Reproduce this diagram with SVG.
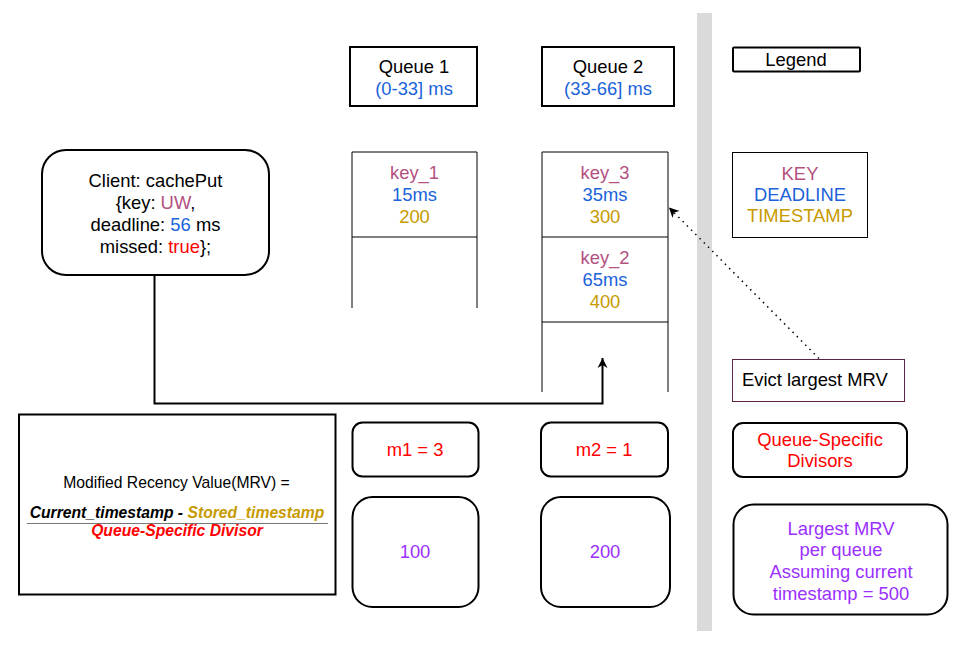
<svg xmlns="http://www.w3.org/2000/svg" width="966" height="646" viewBox="0 0 966 646">
<defs>
<style>
text{font-family:"Liberation Sans",Arial,sans-serif;font-size:18.4px;text-anchor:middle;fill:#000}
.box{fill:#fff;stroke:#000;stroke-width:2}
.thin{fill:none;stroke:#000;stroke-width:1}
.k{fill:#b3517f}.d{fill:#1a63d9}.t{fill:#c79a00}.r{fill:#ff0000}.p{fill:#9b30ff}
</style>
<marker id="arr" markerWidth="12" markerHeight="12" viewBox="0 0 12 12" refX="11" refY="6" orient="auto" markerUnits="userSpaceOnUse">
<path d="M1,1 L11,6 L1,11 L4,6 Z" fill="#000"/>
</marker>
</defs>
<rect x="0" y="0" width="966" height="646" fill="#fff"/>
<rect id="divider" x="697" y="13" width="15" height="618" fill="#dadada"/>

<g id="queue1-header"><rect class="box" x="350" y="47" width="127" height="59"/><text x="414" y="73">Queue 1</text><text class="d" x="414" y="95">(0-33] ms</text></g>
<g id="queue2-header"><rect class="box" x="542" y="47" width="132" height="59"/><text x="608" y="73">Queue 2</text><text class="d" x="608" y="95">(33-66] ms</text></g>

<g id="client"><rect class="box" x="42" y="150" width="227" height="125" rx="24"/>
<text x="155.5" y="187">Client: cachePut</text>
<text x="155.5" y="209">{key: <tspan class="k">UW</tspan>,</text>
<text x="155.5" y="231">deadline: <tspan class="d">56</tspan> ms</text>
<text x="155.5" y="253">missed: <tspan class="r">true</tspan>};</text></g>

<g id="queue1">
<path class="thin" d="M352,308 V152 H477 V308 M352,237 H477"/>
<text class="k" x="414.5" y="179">key_1</text><text class="d" x="414.5" y="201">15ms</text><text class="t" x="414.5" y="223">200</text>
</g>
<g id="queue2">
<path class="thin" d="M542,392 V152 H668 V392 M542,237 H668 M542,322 H668"/>
<text class="k" x="605" y="179">key_3</text><text class="d" x="605" y="201">35ms</text><text class="t" x="605" y="223">300</text>
<text class="k" x="605" y="264">key_2</text><text class="d" x="605" y="286">65ms</text><text class="t" x="605" y="308">400</text>
</g>

<g id="legend-title"><rect class="box" x="733" y="47.5" width="127" height="24" rx="1"/><text x="796" y="66">Legend</text></g>
<g id="legend-key"><rect class="thin" x="732.5" y="152.5" width="135" height="85"/>
<text class="k" x="800" y="180">KEY</text><text class="d" x="800" y="201">DEADLINE</text><text class="t" x="800" y="222">TIMESTAMP</text></g>
<g id="evict"><rect x="732.5" y="359.5" width="172" height="42" fill="#fff" stroke="#5c2342" stroke-width="1"/>
<text x="742" y="386" style="text-anchor:start">Evict largest MRV</text></g>
<g id="legend-divisors"><rect class="box" x="733" y="423" width="174" height="54" rx="10"/>
<text class="r" x="820" y="446">Queue-Specific</text><text class="r" x="820" y="467">Divisors</text></g>
<g id="legend-mrv"><rect class="box" x="733.5" y="504.5" width="214" height="110" rx="20"/>
<text class="p" x="841" y="535">Largest MRV</text><text class="p" x="841" y="556">per queue</text><text class="p" x="841" y="578">Assuming current</text><text class="p" x="841" y="600">timestamp = 500</text></g>

<g id="formula"><rect class="box" x="19" y="414.5" width="316.5" height="180"/>
<text x="176.5" y="488" style="font-size:15.7px">Modified Recency Value(MRV) =</text>
<text x="177" y="518" style="font-size:15.7px;font-weight:bold;font-style:italic">Current_timestamp - <tspan class="t">Stored_timestamp</tspan></text>
<line x1="27" y1="523.5" x2="328" y2="523.5" stroke="#777" stroke-width="1"/>
<text class="r" x="177" y="536" style="font-size:15.7px;font-weight:bold;font-style:italic">Queue-Specific Divisor</text></g>

<g id="m1"><rect class="box" x="352.5" y="422.5" width="126" height="54" rx="10"/><text class="r" x="415" y="456">m1 = 3</text></g>
<g id="m2"><rect class="box" x="541" y="422.5" width="127" height="54" rx="10"/><text class="r" x="604" y="456">m2 = 1</text></g>
<g id="mrv1"><rect class="box" x="352.5" y="497" width="126" height="110" rx="20"/><text class="p" x="415" y="558">100</text></g>
<g id="mrv2"><rect class="box" x="541" y="497" width="129" height="110" rx="20"/><text class="p" x="605" y="558">200</text></g>

<g id="connectors">
<path d="M154.5,275 V403.5 H602.5 V358" fill="none" stroke="#000" stroke-width="2" marker-end="url(#arr)"/>
<path d="M819,358.5 L669,207.5" fill="none" stroke="#000" stroke-width="1.5" stroke-dasharray="1.5 4.5" marker-end="url(#arr)"/>
</g>
</svg>
